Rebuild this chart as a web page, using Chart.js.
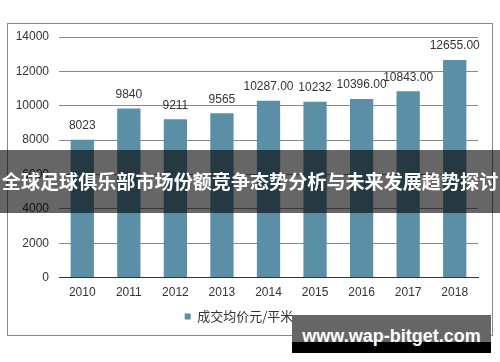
<!DOCTYPE html>
<html>
<head>
<meta charset="utf-8">
<script src="https://cdn.jsdelivr.net/npm/chart.js@4.4.0/dist/chart.umd.min.js"></script>
<style>
  body { margin: 0; background: #fff; }
  #wrap { position: relative; width: 500px; height: 362px; overflow: hidden; }
  #chart { position: absolute; left: 0; top: 0; }
  #frame { position: absolute; left: 7px; top: 23px; width: 484px; height: 311px; border: 1px solid #888; pointer-events: none; }
  #band { position: absolute; left: 0; top: 150px; width: 500px; height: 63px; background: rgba(0,0,0,0.6);
          color: #fff; font: bold 19.1px "Noto Sans CJK SC", sans-serif; line-height: 63px; text-align: center; white-space: nowrap; }
  #mark { position: absolute; left: 292px; top: 315px; width: 199px; height: 38px;
          background: linear-gradient(#666 0, #666 27px, #000 27px, #000 38px);
          color: #fff; font: bold 18px "Liberation Sans", Arial, sans-serif; text-align: center; line-height: 42px; }
</style>
</head>
<body>
<div id="wrap">
  <canvas id="chart" width="500" height="362"></canvas>
  <div id="frame"></div>
  <div id="band">全球足球俱乐部市场份额竞争态势分析与未来发展趋势探讨</div>
  <div id="mark">www.wap-bitget.com</div>
</div>
<script>
'use strict';

var years = ['2010', '2011', '2012', '2013', '2014', '2015', '2016', '2017', '2018'];
var avgPrice = [8023, 9840, 9211, 9565, 10287, 10232, 10396, 10843, 12655];
var priceLabels = ['8023', '9840', '9211', '9565', '10287.00', '10232', '10396.00', '10843.00', '12655.00'];
var seriesName = '成交均价元/平米';
var yTicks = [0, 2000, 4000, 6000, 8000, 10000, 12000, 14000];

var barColor = '#5b8fa6';

// draw the value text over each bar
var barLabels = {
   id: 'barLabels',
   afterDatasetsDraw: function(chart) {
      var ctx = chart.ctx;
      var meta = chart.getDatasetMeta(0);
      ctx.save();
      ctx.font = '12px "Liberation Sans", Arial, sans-serif';
      ctx.fillStyle = '#333';
      ctx.textAlign = 'center';
      ctx.textBaseline = 'middle';
      meta.data.forEach(function(bar, i) {
         ctx.fillText(priceLabels[i], bar.x, bar.y - 14);
      });
      ctx.restore();
   }
};

var ctx = document.getElementById('chart');
new Chart(ctx, {
   type: 'bar',
   data: {
      labels: years,
      datasets: [{
         label: seriesName,
         data: avgPrice,
         backgroundColor: barColor,
         barPercentage: 0.5,
         categoryPercentage: 1
      }]
   },
   options: {
      responsive: false,
      animation: false,
      layout: { padding: { left: 0, right: 22, top: 37, bottom: 29 } },
      plugins: {
         legend: {
            position: 'bottom',
            labels: {
               boxWidth: 6,
               boxHeight: 6,
               padding: 2,
               color: '#333',
               font: { size: 13, family: '"Noto Sans CJK SC", sans-serif' }
            }
         },
         tooltip: { enabled: false }
      },
      scales: {
         x: {
            grid: { display: false, drawTicks: false },
            border: { display: true, color: '#333', width: 1 },
            ticks: { color: '#333', padding: 8, font: { size: 12, family: '"Liberation Sans", Arial, sans-serif' } }
         },
         y: {
            min: 0,
            max: 14000,
            afterFit: function(scale) { scale.width = 59; },
            afterBuildTicks: function(scale) {
               scale.ticks = yTicks.map(function(v) { return { value: v }; });
            },
            grid: { color: '#888', drawTicks: false },
            border: { display: false },
            ticks: {
               color: '#333',
               padding: 10,
               font: { size: 12, family: '"Liberation Sans", Arial, sans-serif' },
               callback: function(v) { return String(v); }
            }
         }
      }
   },
   plugins: [barLabels]
});
</script>
</body>
</html>
